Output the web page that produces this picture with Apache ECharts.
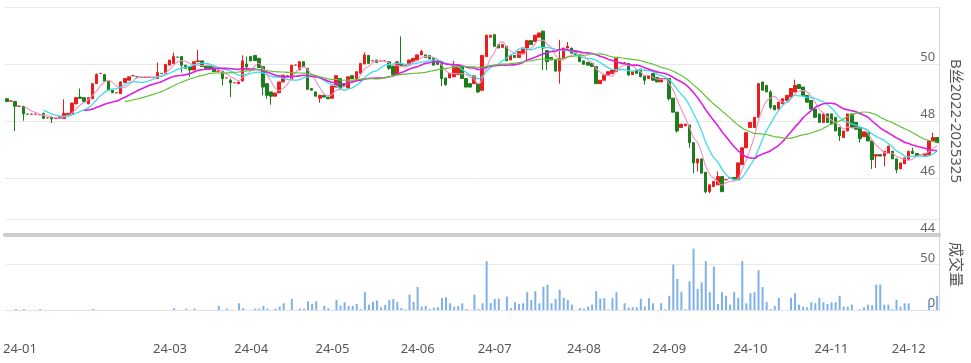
<!DOCTYPE html>
<html><head><meta charset="utf-8">
<script src="https://cdn.jsdelivr.net/npm/echarts@6/dist/echarts.min.js"></script>
<style>html,body{margin:0;padding:0;background:#fff}#c{width:971px;height:363px}</style>
</head><body><div id="c"></div>
<script>
// ---- data ----
const months = ['23-12','24-01','24-02','24-03','24-04','24-05','24-06','24-07','24-08','24-09','24-10','24-11','24-12'];
const tradingDaysPerMonth = [3,22,15,20,20,21,19,22,21,20,20,19,8];
const tickLabels = ['24-01','24-03','24-04','24-05','24-06','24-07','24-08','24-09','24-10','24-11','24-12'];
const priceTicks = [44,46,48,50,52];
const volumeTicks = [0,50,100];
// [open, close, low, high]
const candles = [
[48.78,48.68,48.66,48.80],[48.70,48.70,48.70,48.72],[48.68,48.52,47.65,48.70],[48.52,48.52,48.52,48.52],
[48.52,48.25,48.01,48.52],[48.24,48.24,48.24,48.24],[48.24,48.24,48.24,48.24],[48.24,48.24,48.24,48.24],
[48.22,48.22,48.22,48.22],[48.27,48.09,48.07,48.29],[48.11,48.11,48.11,48.11],[48.13,48.07,47.93,48.13],
[48.09,48.09,48.09,48.09],[48.09,48.15,48.09,48.15],[48.09,48.27,48.07,48.76],[48.22,48.27,48.22,48.27],
[48.25,48.63,48.25,48.63],[48.60,48.82,48.60,48.82],[48.84,48.80,48.78,49.14],[48.82,48.68,48.68,48.82],
[48.60,48.82,48.60,48.82],[48.78,49.31,48.78,49.31],[49.31,49.63,49.31,49.67],[49.67,49.67,49.67,49.67],
[49.63,49.40,49.40,49.63],[49.40,49.08,49.08,49.40],[49.08,48.99,48.99,49.08],[48.99,48.99,48.99,48.99],
[48.96,49.37,48.96,49.40],[49.35,49.49,49.35,49.49],[49.43,49.55,49.43,49.55],[49.59,49.59,49.59,49.59],
[49.55,49.55,49.55,49.55],[49.53,49.53,49.53,49.53],[49.53,49.53,49.53,49.53],[49.53,49.53,49.53,49.53],
[49.53,49.53,49.53,49.53],[49.49,49.70,49.49,50.05],[49.67,49.67,49.67,49.67],[49.67,49.99,49.67,49.99],
[49.96,50.14,49.96,50.14],[50.02,50.26,50.02,50.40],[50.24,50.24,50.24,50.24],[50.26,49.96,49.70,50.28],
[49.96,49.85,49.85,49.96],[49.91,49.79,49.55,49.91],[49.79,50.08,49.79,50.08],[50.08,50.11,50.08,50.50],
[50.11,49.91,49.91,50.11],[49.91,49.85,49.85,49.91],[49.91,49.82,49.82,49.91],[49.91,49.73,49.73,49.91],
[49.75,49.75,49.75,49.75],[49.75,49.49,49.25,49.75],[49.51,49.51,49.51,49.51],[49.43,49.34,48.84,49.49],
[49.34,49.34,49.34,49.34],[49.31,49.37,49.31,49.37],[49.40,50.11,49.40,50.30],[50.00,49.90,49.79,50.26],
[50.26,50.11,50.11,50.26],[50.30,50.12,50.12,50.30],[50.20,49.88,49.88,50.20],[49.91,49.19,48.90,49.91],
[49.31,48.90,48.78,49.31],[49.02,48.87,48.57,49.02],[48.87,48.98,48.87,48.98],[48.99,49.37,48.99,49.37],
[49.37,49.61,49.37,49.61],[49.59,49.59,49.59,49.59],[49.45,49.96,49.45,49.96],[49.96,49.96,49.96,49.96],
[49.79,50.08,49.79,50.08],[50.08,49.91,49.91,50.08],[49.85,49.11,49.11,49.85],[49.14,49.08,49.08,49.14],
[49.02,48.87,48.87,49.02],
[48.80,48.90,48.64,48.92],[48.90,48.84,48.84,48.90],[48.84,48.78,48.78,48.84],[48.80,49.23,48.80,49.23],
[49.19,49.59,49.19,49.59],[49.49,49.16,49.08,49.49],[49.28,49.23,49.23,49.28],[49.16,49.55,49.16,49.55],
[49.59,49.49,49.49,49.59],[49.49,49.73,49.49,49.73],[49.67,50.02,49.67,50.02],[50.00,50.32,50.00,50.41],
[50.30,50.02,50.02,50.30],[50.11,50.11,50.11,50.11],[50.14,50.05,50.05,50.14],[50.11,50.11,50.11,50.11],
[50.11,50.11,50.11,50.11],[50.08,49.85,49.79,50.08],[49.91,49.63,49.63,49.91],[49.63,50.08,49.63,50.08],
[50.02,49.94,49.94,50.97],[49.96,49.96,49.96,49.96],[49.96,50.14,49.96,50.14],[50.08,50.20,50.08,50.20],
[50.14,50.32,50.14,50.32],[50.32,50.44,50.32,50.50],[50.32,50.23,50.23,50.32],[50.30,50.18,50.18,50.30],
[50.20,49.96,49.96,50.20],[50.05,49.99,49.96,50.14],[50.06,49.49,49.23,50.06],[49.51,49.28,49.23,49.51],
[49.51,49.67,49.51,49.67],[49.55,49.91,49.55,50.11],[49.63,49.94,49.63,49.94],[49.91,49.49,49.49,49.91],
[49.49,49.19,49.19,49.49],[49.31,49.19,49.19,49.31],[49.31,49.59,49.31,49.59],[49.31,49.02,48.98,49.31],
[49.08,50.30,49.05,50.30],[50.26,51.01,50.26,51.01],[50.94,51.01,50.94,51.01],[51.03,50.62,50.62,51.03],
[50.68,50.56,50.56,50.68],[50.58,50.68,50.58,50.68],[50.62,50.11,50.11,50.62],[50.14,50.30,50.14,50.30],
[50.30,50.23,50.23,50.30],[50.23,50.44,50.23,50.44],[50.38,50.56,50.38,50.56],[50.56,50.82,50.14,50.82],
[50.82,50.68,50.68,50.82],[50.79,51.01,50.79,51.01],[50.94,51.09,50.94,51.09],[51.15,50.56,49.79,51.18],
[50.47,50.08,49.79,50.47],[50.23,50.14,50.14,50.23],[50.14,49.75,49.75,50.14],[49.75,50.20,49.31,50.85],
[50.20,50.56,50.20,50.56],[50.56,50.62,50.56,50.77],[50.56,50.38,50.38,50.56],[50.46,50.32,50.32,50.46],
[50.32,50.08,50.08,50.32],[50.11,49.99,49.99,50.11],[50.06,49.96,49.96,50.06],[50.02,49.91,49.91,50.02],
[49.91,49.31,49.31,49.91],[49.31,49.43,49.31,49.43],[49.43,49.61,49.43,49.61],[49.61,49.73,49.61,49.73],
[49.67,49.79,49.67,49.79],[49.73,50.20,49.73,50.20],[50.05,50.05,50.05,50.05],[50.05,50.05,50.05,50.05],
[50.02,49.61,49.61,50.02],[49.63,49.73,49.63,49.73],[49.79,49.67,49.67,49.79],[49.82,49.55,49.55,49.82],
[49.57,49.43,49.28,49.57],[49.49,49.59,49.49,49.59],
[49.67,49.43,49.43,49.67],[49.53,49.37,49.37,49.53],[49.37,49.49,49.37,49.49],[49.49,49.49,49.49,49.49],
[49.49,48.78,48.72,49.49],[48.80,48.31,48.31,48.80],[48.31,47.65,47.59,48.31],[47.77,47.89,47.77,47.89],
[47.83,47.89,47.83,47.89],[47.86,47.24,47.06,47.86],[47.24,46.53,46.17,47.24],[46.53,46.67,46.23,46.67],
[46.67,46.17,46.17,46.67],[46.20,45.52,45.46,46.20],[45.52,45.76,45.46,45.76],[45.70,45.88,45.70,45.88],
[45.76,46.05,45.76,46.23],[46.05,45.52,45.52,46.05],[45.94,45.94,45.94,45.94],[46.00,46.00,46.00,46.00],
[46.02,45.94,45.94,46.02],[45.94,46.53,45.94,46.53],[46.47,47.06,46.47,47.06],[47.06,47.59,47.06,47.59],
[47.77,47.95,47.77,47.95],[47.77,48.13,47.77,48.13],[48.13,49.31,48.13,49.31],[49.37,49.08,49.08,49.37],
[49.25,49.02,49.02,49.25],[49.02,48.48,48.42,49.08],[48.54,48.39,48.39,48.54],[48.42,48.66,48.42,48.66],
[48.60,48.78,48.60,48.78],[48.72,48.90,48.72,48.90],[48.84,49.14,48.84,49.14],[49.02,49.25,49.02,49.45],
[49.28,49.14,49.14,49.28],[49.19,48.90,48.90,49.19],[48.90,48.66,48.66,48.90],[48.72,48.42,48.42,48.72],
[48.42,48.13,48.13,48.42],[48.25,47.95,47.95,48.25],[47.95,48.25,47.95,48.25],[48.25,47.95,47.95,48.25],
[48.25,47.89,47.89,48.25],[48.13,47.65,47.65,48.13],[47.77,47.48,47.30,47.77],[47.42,47.65,47.42,47.65],
[47.65,48.25,47.65,48.25],[48.25,47.77,47.77,48.25],[47.95,47.71,47.71,47.95],[47.77,47.38,47.24,47.77],
[47.45,47.62,47.45,47.62],[47.59,47.30,47.30,47.59],[47.30,46.65,46.32,47.30],[46.77,46.82,46.35,46.82],
[46.82,46.77,46.77,46.82],[46.77,46.94,46.41,46.94],[46.88,47.12,46.88,47.12],[46.94,46.67,46.67,46.94],
[46.67,46.29,46.17,46.67],[46.32,46.53,46.32,46.53],[46.50,46.71,46.50,46.71],[46.65,46.94,46.65,46.94],
[46.94,46.86,46.86,47.06],[46.86,46.79,46.79,46.86],[46.82,46.82,46.82,46.82],[46.77,46.86,46.77,46.86],
[46.82,47.30,46.82,47.30],[47.30,47.42,47.30,47.59],[47.42,47.24,47.24,47.42]
];
const volume = [
0,0,1,0,1,0,0,0,1,0, 0,0,0,0,0,0,0,0,0,0, 0,1,0,0,0,0,0,0,0,0,
0,0,0,0,0,0,0,0,0,0, 0,2,0,0,1.5,0,1.5,0,0,0, 0,0,4.4,0,1.5,0,0,7.4,2,0,
0,1.5,1.5,4.4,1.5,0,1.5,3.7,7.4,0, 12.2,0,1.5,1.5,9.6,6.7,9.6,0,4.4,2, 0,11,4.8,8.5,4.4,4.4,6.7,1,19.6,5.9,
8.9,10.4,3,5.6,10.7,11.9,8.9,2.2,0.7,17, 8.9,25.2,3.7,4.4,1,2.6,3,13,14,7.4, 3.7,4.4,7.4,1,0,17,1,7.4,53.7,7.4,
12.2,12.2,0,14.8,1.9,8.5,6.7,7.4,19.6,11, 20.7,7.4,25.6,27.8,7.4,12.2,22.2,13.3,11,5.9, 0,2.2,1.5,3.7,5.9,20.7,12.6,13,0.7,13,
19.6,0,7.4,2.6,3,3,12.2,3.7,13,7.4, 0,7.4,0.7,15.6,50,34,20,1,31.5,67.4, 23,30.4,53.7,19.6,47.8,6.7,19.6,15.6,5.9,19.6,
13.3,53.7,7.4,18.5,19.6,43.7,25.2,8.9,1,4.4, 13.3,0,0,13.3,18.5,5.9,3.7,3,8.5,7.4, 13.3,8.5,6.7,8.5,8.5,15.6,3.7,3.7,5.9,0,
0.7,3,5.9,5.2,27.8,27.8,5.9,5.9,1,11, 3.7,7.4,7.4,0,0,0,0,7.4,0,15.6
];
const maPeriods = [5,10,20,30];

// ---- build ----
const dates = [], isMonthStart = [];
months.forEach((m, mi) => {
  for (let d = 1; d <= tradingDaysPerMonth[mi]; d++) { dates.push(m + '#' + d); isMonthStart.push(d === 1); }
});
function showAt(i) { return isMonthStart[i] && tickLabels.indexOf(dates[i].slice(0,5)) >= 0; }
function calcMA(n) {
  const r = [];
  for (let i = 0; i < candles.length; i++) {
    if (i < n - 1) { r.push('-'); continue; }
    let s = 0; for (let j = 0; j < n; j++) s += candles[i - j][1];
    r.push(+(s / n).toFixed(3));
  }
  return r;
}
const maColors = ['#f291bf', '#3fdcec', '#de1fe0', '#63c23a'];
const maWidths = [1.1, 1.3, 1.6, 1.2];
const font = "'Noto Sans','Noto Sans CJK SC',sans-serif";
const chart = echarts.init(document.getElementById('c'), null, {renderer: 'canvas'});
chart.setOption({
  animation: false,
  textStyle: {fontFamily: font},
  grid: [
    {left: 5, right: 30, top: 7, height: 228},
    {left: 5, right: 30, top: 219, height: 91}
  ],
  xAxis: [
    {type: 'category', gridIndex: 0, data: dates, boundaryGap: true,
     axisLine: {lineStyle: {color: '#cccccc', width: 4}}, axisTick: {show: false}, axisLabel: {show: false}, splitLine: {show: false}},
    {type: 'category', gridIndex: 1, data: dates, boundaryGap: true, offset: 23,
     axisLine: {lineStyle: {color: '#dde3ee'}},
     axisTick: {alignWithLabel: true, interval: (i) => showAt(i), length: 8, lineStyle: {color: '#cfd8e8'}},
     axisLabel: {interval: (i) => showAt(i), formatter: v => v.slice(0,5), color: '#555', fontSize: 13, margin: 10},
     splitLine: {show: false}}
  ],
  yAxis: [
    {type: 'value', gridIndex: 0, position: 'right', min: priceTicks[0], max: priceTicks[priceTicks.length-1], interval: 2,
     name: 'B丝2022-2025325', nameLocation: 'middle', nameRotate: -90, nameGap: 8,
     nameTextStyle: {color: '#555', fontSize: 15},
     axisLine: {show: true, lineStyle: {color: '#ccd6eb'}}, axisTick: {show: false},
     axisLabel: {inside: true, margin: 4, color: '#666', fontSize: 13, verticalAlign: 'bottom', showMaxLabel: false},
     splitLine: {lineStyle: {color: '#e8e8e8'}}},
    {type: 'value', gridIndex: 1, position: 'right', min: volumeTicks[0], max: volumeTicks[2], interval: 50,
     name: '成交量', nameLocation: 'middle', nameRotate: -90, nameGap: 8,
     nameTextStyle: {color: '#555', fontSize: 15},
     axisLine: {show: true, lineStyle: {color: '#ccd6eb'}}, axisTick: {show: false},
     axisLabel: {inside: true, margin: 4, color: '#666', fontSize: 13, verticalAlign: 'bottom', showMaxLabel: false},
     splitLine: {lineStyle: {color: '#e8e8e8'}}}
  ],
  series: [
    {type: 'candlestick', xAxisIndex: 0, yAxisIndex: 0, data: candles, barWidth: 3,
     itemStyle: {color: '#eb1c1c', color0: '#1b7d1b', borderColor: '#eb1c1c', borderColor0: '#1b7d1b', borderWidth: 1}},
    ...maPeriods.map((p, k) => ({
      type: 'line', name: 'MA' + p, xAxisIndex: 0, yAxisIndex: 0, data: calcMA(p), smooth: true,
      showSymbol: false, symbol: 'none', lineStyle: {color: maColors[k], width: maWidths[k]}
    })),
    {type: 'bar', xAxisIndex: 1, yAxisIndex: 1, data: volume, barWidth: 2, itemStyle: {color: '#7fb1e6'}}
  ]
});
</script></body></html>
